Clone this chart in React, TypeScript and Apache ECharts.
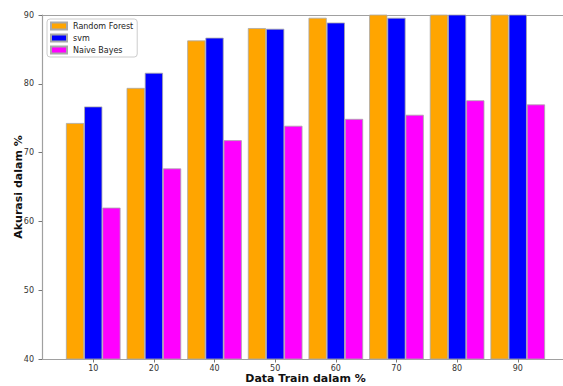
import React, { useEffect, useRef } from "react";
import * as echarts from "echarts";

const categories = ["10", "20", "40", "50", "60", "70", "80", "90"];
const randomForest = [74.3, 79.4, 86.3, 88.1, 89.6, 90.4, 91.2, 91.5];
const svm = [76.7, 81.6, 86.7, 88.0, 88.9, 89.6, 90.6, 91.0];
const naiveBayes = [62.0, 67.7, 71.8, 73.9, 74.9, 75.5, 77.6, 77.0];
const yTicks = [40, 50, 60, 70, 80, 90];
const seriesNames = ["Random Forest", "svm", "Naive Bayes"];
const seriesColors = ["#FFA500", "#0000FF", "#FF00FF"];

const FONT = "DejaVu Sans";

export default function App() {
  const ref = useRef<HTMLDivElement>(null);
  useEffect(() => {
    if (!ref.current) return;
    const chart = echarts.init(ref.current, null, { renderer: "svg" });
    const idx = categories.map((_, i) => i);
    const values = [randomForest, svm, naiveBayes];
    const spine = { show: true, onZero: false, lineStyle: { color: "#a0a0a0", width: 1.2 } };
    chart.setOption({
      animation: false,
      backgroundColor: "#ffffff",
      textStyle: { fontFamily: FONT },
      grid: { left: 42, right: -6, top: 15, bottom: 27, containLabel: false, outerBoundsMode: "none" },
      legend: {
        show: true,
        orient: "vertical",
        left: 47,
        top: 19,
        data: seriesNames,
        icon: "rect",
        itemWidth: 16,
        itemHeight: 7,
        itemGap: 2,
        padding: [2, 4, 2, 3],
        borderColor: "#cccccc",
        borderWidth: 1,
        borderRadius: 3,
        backgroundColor: "#ffffff",
        textStyle: { fontFamily: FONT, fontSize: 8, color: "#222", lineHeight: 10, padding: [0, 0, 0, 1] },
      },
      xAxis: [
        {
          type: "value",
          min: -0.845,
          max: 7.845,
          position: "bottom",
          name: "Data Train dalam %",
          nameLocation: "middle",
          nameGap: 14,
          nameMoveOverlap: false,
          nameTextStyle: { fontFamily: FONT, fontSize: 11, fontWeight: "bold", color: "#111" },
          axisLine: spine,
          splitLine: { show: false },
          axisTick: { show: true, customValues: idx, length: 3.5, lineStyle: { color: "#555", width: 0.8 } },
          axisLabel: {
            show: true,
            customValues: idx,
            formatter: (v: number) => categories[Math.round(v)] ?? "",
            fontFamily: FONT,
            fontSize: 8,
            color: "#333",
            margin: 5,
          },
        },
        {
          type: "value",
          min: -0.845,
          max: 7.845,
          position: "top",
          axisLine: spine,
          splitLine: { show: false },
          axisTick: { show: false },
          axisLabel: { show: false },
        },
      ],
      yAxis: {
        type: "value",
        min: 40,
        max: 90,
        interval: 10,
        name: "Akurasi dalam %",
        nameLocation: "middle",
        nameGap: 18,
        nameMoveOverlap: false,
        nameTextStyle: { fontFamily: FONT, fontSize: 11, fontWeight: "bold", color: "#111" },
        axisLine: spine,
        splitLine: { show: false },
        axisTick: { show: true, length: 3.5, lineStyle: { color: "#555", width: 0.8 } },
        axisLabel: {
          fontFamily: FONT,
          fontSize: 8,
          color: "#333",
          margin: 8,
          formatter: (v: number) => (yTicks.includes(v) ? String(v) : ""),
        },
      },
      series: seriesNames.map((name, s) => ({
        name,
        type: "bar",
        xAxisIndex: 0,
        barWidth: 18.2,
        barGap: "0%",
        clip: true,
        itemStyle: { color: seriesColors[s], borderColor: "#a8a8a8", borderWidth: 0.8 },
        data: values[s].map((v, i) => [i, v]),
      })),
    });
    return () => chart.dispose();
  }, []);
  return <div ref={ref} style={{ width: 563, height: 386, position: "absolute", left: 0, top: 0 }} />;
}
